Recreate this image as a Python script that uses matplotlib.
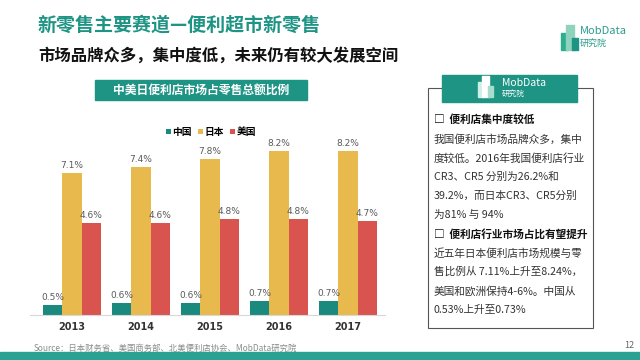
import matplotlib
matplotlib.use('Agg')
import numpy as np
import matplotlib.pyplot as plt
from matplotlib.patches import Rectangle

plt.rcParams['font.family'] = ['Noto Sans CJK SC', 'DejaVu Sans']

# ── Data ─────────────────────────────────────────────────────────────────────
years = ['2013', '2014', '2015', '2016', '2017']
china = [0.5, 0.6, 0.6, 0.7, 0.7]
japan = [7.1, 7.4, 7.8, 8.2, 8.2]
usa = [4.6, 4.6, 4.8, 4.8, 4.7]
series_names = ['中国', '日本', '美国']

box_lines = [
    ('□  便利店集中度较低', True),
    ('我国便利店市场品牌众多，集中', False),
    ('度较低。2016年我国便利店行业', False),
    ('CR3、CR5 分别为26.2%和', False),
    ('39.2%，而日本CR3、CR5分别', False),
    ('为81% 与 94%', False),
    ('□  便利店行业市场占比有望提升', True),
    ('近五年日本便利店市场规模与零', False),
    ('售比例从 7.11%上升至8.24%，', False),
    ('美国和欧洲保持4-6%。中国从', False),
    ('0.53%上升至0.73%', False),
]

TEAL = '#1d9484'
C_CN = '#1a8a7e'
C_JP = '#e8b94c'
C_US = '#d9534f'

W, H = 640, 360


def fx(x):
    return x / W


def fy(y):
    return 1 - y / H


fig = plt.figure(figsize=(6.4, 3.6), dpi=100)
fig.patch.set_facecolor('white')

# ── Headings ─────────────────────────────────────────────────────────────────
fig.text(fx(38), fy(25), '新零售主要赛道—便利超市新零售', color=TEAL,
         fontsize=13.7, fontweight='bold', va='center', ha='left')
fig.text(fx(38), fy(56), '市场品牌众多，集中度低，未来仍有较大发展空间',
         color='#111111', fontsize=11.8, fontweight='bold', va='center', ha='left')

# top-right logo
for (x0, y0, w, h, c) in [(561, 33, 7, 17, '#2fae8e'), (566, 25, 8, 25, '#8fd3bd'),
                          (572, 38, 6, 12, '#1d9484')]:
    fig.patches.append(Rectangle((fx(x0), fy(y0 + h)), w / W, h / H,
                                 transform=fig.transFigure, color=c, zorder=2))
fig.text(fx(580), fy(31), 'MobData', color='#2a9d8a', fontsize=8, va='center')
fig.text(fx(580), fy(43), '研究院', color='#2a9d8a', fontsize=6.5, va='center')

# chart banner
fig.patches.append(Rectangle((fx(95), fy(100)), 212 / W, 20 / H,
                             transform=fig.transFigure, color=TEAL, zorder=2))
fig.text(fx(201), fy(90), '中美日便利店市场占零售总额比例', color='white',
         fontsize=8.5, fontweight='bold', ha='center', va='center', zorder=3)

# ── Bar chart ────────────────────────────────────────────────────────────────
ax = fig.add_axes([fx(30), fy(315), (385 - 30) / W, (315 - 135) / H])
x = np.arange(len(years))
bw = 0.28
groups = [(china, C_CN, -bw), (japan, C_JP, 0), (usa, C_US, bw)]
handles = []
for (vals, col, off), name in zip(groups, series_names):
    b = ax.bar(x + off, vals, width=bw, color=col, label=name)
    handles.append(b)
    for xi, v in zip(x, vals):
        ax.text(xi + off, v + 0.15, f'{v:.1f}%', ha='center', va='bottom',
                fontsize=6.5, color='#5a5a5a', family=['DejaVu Sans'])

ax.set_xlim(-0.609, 4.536)
ax.set_ylim(0, 9)
ax.set_xticks(x)
ax.set_xticklabels(years, fontsize=7, color='#333333', fontweight='semibold',
                   family=['DejaVu Sans'])
ax.tick_params(axis='x', length=0, pad=5)
ax.set_yticks([])
for s in ['top', 'right', 'left']:
    ax.spines[s].set_visible(False)
ax.spines['bottom'].set_color('#d8d8d8')

leg = fig.legend(handles=handles, labels=series_names, loc='center',
                 bbox_to_anchor=(fx(211), fy(132)), ncol=3, frameon=False,
                 fontsize=7, handlelength=0.5, handleheight=0.5,
                 handletextpad=0.2, columnspacing=0.6)
for t in leg.get_texts():
    t.set_fontweight('bold')

# ── Right info box ───────────────────────────────────────────────────────────
fig.patches.append(Rectangle((fx(428), fy(328)), 165 / W, 240 / H,
                             transform=fig.transFigure, fill=False,
                             edgecolor='#555555', linewidth=0.8, zorder=2))
fig.patches.append(Rectangle((fx(442), fy(102)), 135 / W, 27 / H,
                             transform=fig.transFigure, color=TEAL, zorder=3))
for (x0, y0, w, h, c) in [(478, 82, 5, 15, '#cfeee6'), (482, 76, 7, 21, '#ffffff'),
                          (488, 86, 5, 11, '#a8dccd')]:
    fig.patches.append(Rectangle((fx(x0), fy(y0 + h)), w / W, h / H,
                                 transform=fig.transFigure, color=c, zorder=4))
fig.text(fx(502), fy(83), 'MobData', color='white', fontsize=7.5,
         va='center', zorder=5)
fig.text(fx(502), fy(94), '研究院', color='white', fontsize=5.5,
         va='center', zorder=5)

for i, (line, bold) in enumerate(box_lines):
    fig.text(fx(434), fy(120 + i * 19), line, fontsize=7.7,
             fontweight='bold' if bold else 'normal',
             color='#111111' if bold else '#333333', va='center', ha='left')

# ── Footer ───────────────────────────────────────────────────────────────────
fig.text(fx(34), fy(348), 'Source：日本财务省、美国商务部、北美便利店协会、MobData研究院',
         fontsize=6, color='#8a8a8a', va='center', ha='left')
fig.text(fx(634), fy(345), '12', fontsize=6.5, color='#666666', va='center', ha='right')
fig.patches.append(Rectangle((0, 0), 1, 8 / H, transform=fig.transFigure,
                             color='#2aa192', zorder=2))

fig.savefig('out.png', dpi=100)
